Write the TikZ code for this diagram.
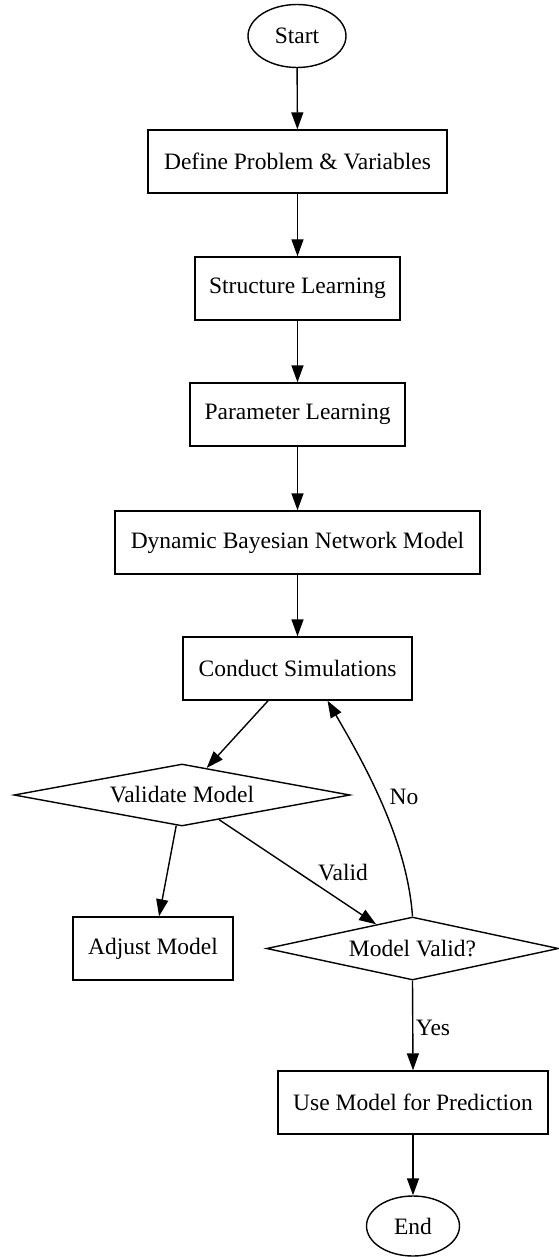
\documentclass[tikz,border=0pt]{standalone}
\usepackage{fontspec}
\setmainfont{Liberation Serif}
\usetikzlibrary{shapes.geometric,arrows.meta}
\begin{document}
\begin{tikzpicture}[x=1pt,y=-1pt,
  every node/.style={font=\fontsize{23.5}{28}\selectfont},
  box/.style={draw,line width=1.4pt,rectangle,inner sep=0pt,minimum height=63pt},
  term/.style={draw,line width=1.4pt,ellipse,inner sep=0pt},
  dec/.style={draw,line width=1.4pt,diamond,inner sep=0pt},
  arr/.style={line width=1.4pt,-{Triangle[length=17pt,width=12pt]}},
  lab/.style={inner sep=0pt}]
\useasboundingbox (0,0) rectangle (558,1257);
\node[term,minimum width=98pt,minimum height=63pt] (start) at (297,36) {Start};
\node[box,minimum width=299pt] (define) at (297.5,161.5) {Define Problem \& Variables};
\node[box,minimum width=205pt] (struct) at (297.5,288.5) {Structure Learning};
\node[box,minimum width=215pt] (param) at (297.5,414.5) {Parameter Learning};
\node[box,minimum width=365pt] (dbn) at (297.5,542.5) {Dynamic Bayesian Network Model};
\node[box,minimum width=229pt] (sim) at (297.5,668.5) {Conduct Simulations};
\node[dec,aspect=5.42,minimum width=336pt,minimum height=62pt] (val) at (182,795) {Validate Model};
\node[box,minimum width=160pt] (adj) at (153,948.5) {Adjust Model};
\node[dec,aspect=4.67,minimum width=292pt,minimum height=63pt] (mv) at (412.5,948.5) {Model Valid?};
\node[box,minimum width=270pt] (use) at (413,1102.5) {Use Model for Prediction};
\node[term,minimum width=93pt,minimum height=60pt] (end) at (413,1226) {End};
\draw[arr] (start) -- (define);
\draw[arr] (define) -- (struct);
\draw[arr] (struct) -- (param);
\draw[arr] (param) -- (dbn);
\draw[arr] (dbn) -- (sim);
\draw[arr] (sim) -- (val);
\draw[arr] (val) -- (adj);
\draw[arr] (val) -- (mv);
\node[lab] (lvalid) at (343,873) {Valid};
\draw[arr] (mv.north) .. controls (407,840) and (365,765) .. ([xshift=30pt]sim.south);
\node[lab] (lno) at (404,797) {No};
\draw[arr] (mv.south) -- (use.north);
\node[lab] (lyes) at (433,1028) {Yes};
\draw[arr] (use) -- (end);
\end{tikzpicture}
\end{document}
